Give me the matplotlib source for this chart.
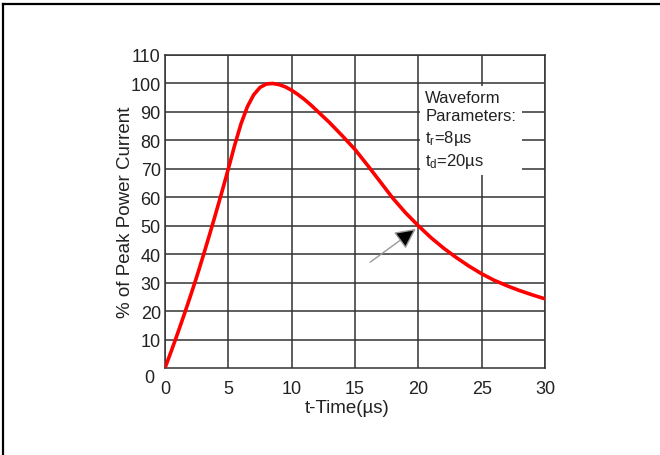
import matplotlib
matplotlib.use('Agg')
import matplotlib.pyplot as plt
from matplotlib.lines import Line2D
import matplotlib.transforms as mtransforms

plt.rcParams['font.family'] = ['Liberation Sans', 'DejaVu Sans']
plt.rcParams['mathtext.default'] = 'regular'

# curve: time (us) -> % of peak current
t_us = [0, 0.5, 1, 1.5, 2, 2.5, 3, 3.5, 4, 4.5, 5, 5.5, 6, 6.5, 7, 7.5, 8, 8.5,
        9, 9.5, 10, 10.5, 11, 11.5, 12, 13, 14, 15, 16, 17, 18, 19, 20, 21, 22,
        23, 24, 25, 26, 27, 28, 29, 30]
pct = [0, 6, 12.2, 18.6, 25.2, 32, 39.2, 46.6, 54.2, 62, 70, 78.3, 85.8, 91.8,
       96, 98.6, 99.8, 100, 99.6, 98.8, 97.6, 96.1, 94.4, 92.5, 90.4, 86.2,
       81.6, 76.8, 71.2, 65.4, 59.6, 54.5, 50, 45.8, 42.1, 38.8, 35.8, 33.1,
       30.8, 28.9, 27.2, 25.7, 24.3]

x_ticks = [0, 5, 10, 15, 20, 25, 30]
y_ticks = [10, 20, 30, 40, 50, 60, 70, 80, 90, 100, 110]

fig = plt.figure(figsize=(6.6, 4.56), dpi=100)
ax = fig.add_axes([165/660, 1 - 369/456, 380/660, 313/456])

ax.plot(t_us, pct, color='#ff0000', lw=2.6, zorder=3,
        solid_capstyle='round', solid_joinstyle='round')

ax.set_xlim(0, 30)
ax.set_ylim(0, 110)
ax.set_xticks(x_ticks)
ax.set_yticks(y_ticks)
ax.grid(True, color='#333333', lw=1.1)
for s in ax.spines.values():
    s.set_color('#333333')
    s.set_linewidth(1.1)
ax.tick_params(length=0, labelsize=13, colors='#222222')
ax.tick_params(axis='x', pad=9)
ax.tick_params(axis='y', pad=3)

# the "0" on the y axis sits a little low in the original
trans = mtransforms.blended_transform_factory(ax.transAxes, ax.transData)
ax.annotate('0', xy=(0, 0), xycoords=trans, xytext=(-7.5, -6.5),
            textcoords='offset points', ha='right', va='center',
            fontsize=13, color='#222222')

ax.set_xlabel('t-Time(µs)', fontsize=13.5, color='#222222')
ax.xaxis.set_label_coords(0.478, -0.1)
ax.set_ylabel('% of Peak Power Current', fontsize=13.5, color='#222222')
ax.yaxis.set_label_coords(-0.082, 0.5)

ax.text(20.55, 97.8, 'Waveform\nParameters:\nt$_r$=8µs\nt$_d$=20µs',
        fontsize=12, color='#222222', va='top', ha='left', linespacing=1.3,
        zorder=4, bbox=dict(facecolor='white', edgecolor='none', pad=4))

ax.annotate('', xy=(19.8, 48.9), xytext=(16.2, 37.2),
            arrowprops=dict(arrowstyle='-|>,head_length=0.9,head_width=0.45',
                            fc='black', ec='#999999', lw=1, mutation_scale=14,
                            shrinkA=0, shrinkB=0), zorder=4)

# page frame (top and left edge visible)
fig.add_artist(Line2D([2.5/660, 1], [1 - 5/456, 1 - 5/456], transform=fig.transFigure,
                      color='black', lw=1.6))
fig.add_artist(Line2D([2.5/660, 2.5/660], [0, 1 - 5/456], transform=fig.transFigure,
                      color='black', lw=1.6))

fig.savefig('out.png', dpi=100)
